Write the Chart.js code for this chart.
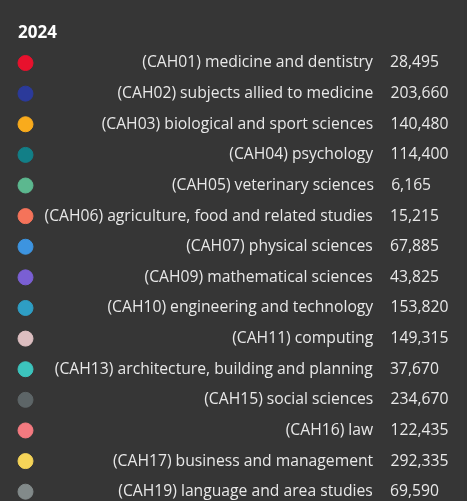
<!DOCTYPE html>
<html><head><meta charset="utf-8">
<script src="https://cdn.jsdelivr.net/npm/chart.js@4.4.1/dist/chart.umd.min.js"></script>
<style>html,body{margin:0;padding:0;background:#353535;overflow:hidden}#wrap{width:467px;height:501px;position:relative}</style>
</head><body><div id="wrap"><canvas id="c"></canvas></div>
<script>
const yearLabels = ['2024'];
const categories = [
  '(CAH01) medicine and dentistry',
  '(CAH02) subjects allied to medicine',
  '(CAH03) biological and sport sciences',
  '(CAH04) psychology',
  '(CAH05) veterinary sciences',
  '(CAH06) agriculture, food and related studies',
  '(CAH07) physical sciences',
  '(CAH09) mathematical sciences',
  '(CAH10) engineering and technology',
  '(CAH11) computing',
  '(CAH13) architecture, building and planning',
  '(CAH15) social sciences',
  '(CAH16) law',
  '(CAH17) business and management',
  '(CAH19) language and area studies'
];
const values2024 = [28495, 203660, 140480, 114400, 6165, 15215, 67885, 43825, 153820, 149315, 37670, 234670, 122435, 292335, 69590];
const seriesColors = ['#e8112d','#2b3a9a','#f9ab1c','#127f87','#5cb88f','#f5735a','#3d94e0','#7a5fd3','#2e9ec4','#dcbec0','#3cc4bd','#5d6567','#f47a80','#f5d458','#828a8a'];

const FAMILY = '"Open Sans", "Noto Sans", sans-serif';
const BODY_SIZE = 15.7;
const mctx = document.createElement('canvas').getContext('2d');
mctx.font = 'normal ' + BODY_SIZE + 'px ' + FAMILY;
const W = s => mctx.measureText(s).width;
const HS = '\u200A';
const fmt = v => v.toLocaleString('en-US');
const maxValW = Math.max(...values2024.map(v => W(fmt(v))));
const hsW = W(HS) || 1;
let gap = '';
while (W(gap) < 18 - hsW / 2) gap += HS;
const suffixes = values2024.map(v => {
  let pad = '';
  const s = fmt(v);
  while (W(s + pad) < maxValW - hsW / 2) pad += HS;
  return gap + s + pad;
});

Chart.Tooltip.positioners.topLeft = function() { return {x: 0, y: 0}; };

const chart = new Chart(document.getElementById('c'), {
  type: 'line',
  data: {
    labels: yearLabels,
    datasets: categories.map((c, i) => ({
      label: c,
      data: [values2024[i]],
      backgroundColor: seriesColors[i],
      borderColor: seriesColors[i],
      pointStyle: 'circle',
      pointRadius: 0
    }))
  },
  options: {
    responsive: true,
    maintainAspectRatio: false,
    animation: false,
    events: [],
    layout: {padding: 0},
    scales: {x: {display: false}, y: {display: false}},
    plugins: {
      legend: {display: false},
      tooltip: {
        enabled: true,
        animation: false,
        mode: 'index',
        intersect: false,
        position: 'topLeft',
        xAlign: 'left',
        yAlign: 'top',
        caretSize: 0,
        caretPadding: 0,
        cornerRadius: 0,
        backgroundColor: '#363636',
        borderWidth: 0,
        padding: {top: 22.8, left: 18, right: 16, bottom: 12},
        titleFont: {family: FAMILY, size: 17, weight: 'bold', lineHeight: 1.2},
        titleColor: '#ffffff',
        titleAlign: 'left',
        titleMarginBottom: 10.4,
        bodyFont: {family: FAMILY, size: BODY_SIZE, lineHeight: 1.2},
        bodyColor: '#e8e8e8',
        bodyAlign: 'right',
        bodySpacing: 11.78,
        boxWidth: 15,
        boxHeight: 15,
        boxPadding: 9.5,
        usePointStyle: true,
        multiKeyBackground: 'rgba(0,0,0,0)',
        displayColors: true,
        callbacks: {
          title: items => items[0].label,
          label: ctx => ctx.dataset.label + suffixes[ctx.datasetIndex]
        }
      }
    }
  }
});
chart.tooltip.setActiveElements(categories.map((_, i) => ({datasetIndex: i, index: 0})), {x: 0, y: 0});
chart.update();
</script>
</body></html>
